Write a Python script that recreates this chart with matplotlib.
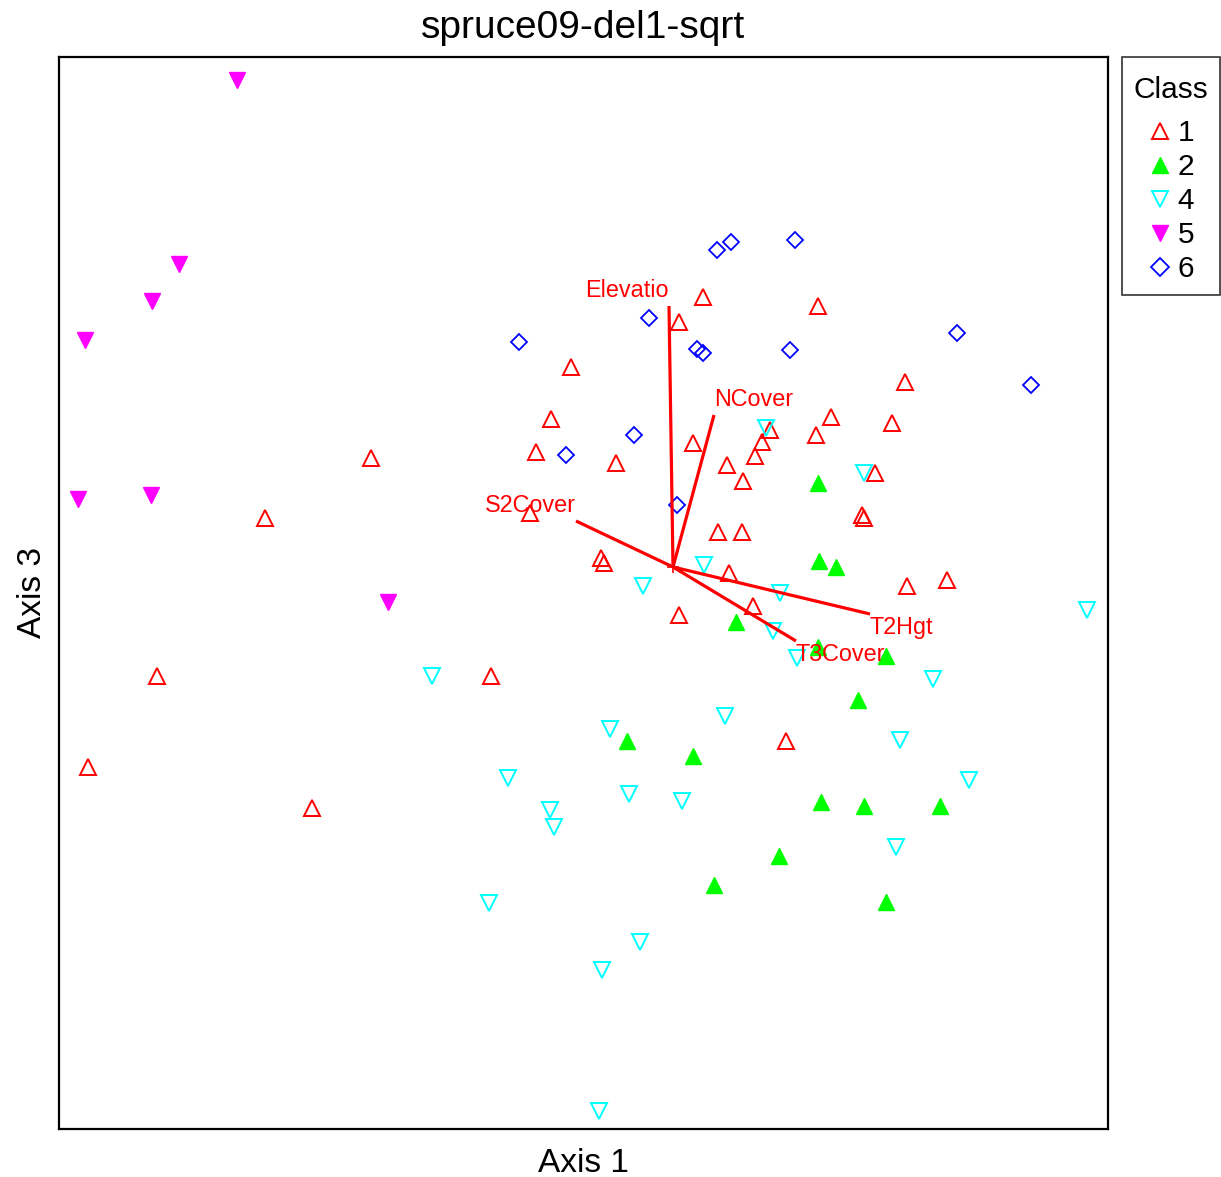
import matplotlib
matplotlib.use("Agg")
import matplotlib.pyplot as plt
from matplotlib.offsetbox import VPacker, DrawingArea
import numpy as np

plt.rcParams['font.family'] = ['Liberation Sans', 'DejaVu Sans']

# Ordination scores (arbitrary units) per class
c1_x = [312, 206, 98, 29, 253, 432, 512, 492, 477, 471, 557, 542, 545, 644, 620, 634, 668, 684, 696, 703, 711,
        659, 683, 670, 694, 620, 759, 772, 757, 846, 833, 816, 803, 805, 848, 888, 727]
c1_y = [671, 611, 453, 362, 321, 453, 762, 710, 677, 616, 666, 571, 566, 832, 807, 686, 664, 648, 673, 687, 699,
        597, 597, 556, 523, 514, 823, 712, 694, 747, 706, 656, 614, 611, 543, 549, 388]
c2_x = [759, 760, 777, 677, 759, 827, 799, 568, 634, 762, 805, 881, 720, 655, 827]
c2_y = [646, 568, 562, 507, 482, 473, 429, 388, 373, 327, 323, 323, 273, 244, 227]
c4_x = [373, 584, 645, 707, 805, 721, 714, 738, 1028, 874, 666, 551, 841, 910, 449, 570, 623, 491, 495, 837,
        430, 581, 543, 540]
c4_y = [453, 543, 564, 701, 656, 536, 498, 471, 519, 450, 413, 400, 389, 349, 351, 335, 328, 319, 302, 282,
        226, 187, 159, 18]
c5_x = [178, 120, 93, 26, 19, 92, 329]
c5_y = [1049, 865, 828, 789, 630, 634, 527]
c6_x = [460, 590, 658, 672, 736, 638, 644, 731, 898, 972, 575, 507, 618]
c6_y = [787, 811, 879, 887, 889, 780, 776, 779, 796, 744, 694, 674, 624]

# Biplot vectors (from centroid)
origin = (614, 562)
vec_names = ["Elevatio", "NCover", "S2Cover", "T2Hgt", "T3Cover"]
vec_dx = [-4, 41, -97, 197, 123]
vec_dy = [261, 152, 46, -47, -74]

class_labels = ["1", "2", "4", "5", "6"]

fig = plt.figure(figsize=(12.21, 11.77), dpi=100)
ax = fig.add_axes([59/1221, 1 - 1129/1177, (1108-59)/1221, (1129-57)/1177])

ms = 11
ax.plot(c1_x, c1_y, ls='none', marker='^', ms=ms, mfc='none', mec='#FF0000', mew=1.4, label=class_labels[0])
ax.plot(c2_x, c2_y, ls='none', marker='^', ms=ms, mfc='#00FF00', mec='#00FF00', mew=1.0, label=class_labels[1])
ax.plot(c4_x, c4_y, ls='none', marker='v', ms=ms, mfc='none', mec='#00FFFF', mew=1.4, label=class_labels[2])
ax.plot(c5_x, c5_y, ls='none', marker='v', ms=ms, mfc='#FF00FF', mec='#FF00FF', mew=1.0, label=class_labels[3])
ax.plot(c6_x, c6_y, ls='none', marker='D', ms=8, mfc='none', mec='#0000FF', mew=1.3, label=class_labels[4])

for name, dx, dy in zip(vec_names, vec_dx, vec_dy):
    x1, y1 = origin[0] + dx, origin[1] + dy
    ax.plot([origin[0], x1], [origin[1], y1], color='#FF0000', lw=2.3, solid_capstyle='butt')
    ha = 'right' if dx < 0 else 'left'
    off = 11 if dy > 0 else -10
    ax.annotate(name, (x1, y1), xytext=(0, off), textcoords='offset points',
                ha=ha, va='center', color='#FF0000', fontsize=16.8)
ax.plot([origin[0]], [origin[1]], marker='+', ms=8, color='#FF0000', mew=1.2)

ax.set_xlim(0, 1049)
ax.set_ylim(0, 1072)
ax.set_xticks([])
ax.set_yticks([])
for s in ax.spines.values():
    s.set_linewidth(1.6)

ax.set_title("spruce09-del1-sqrt", fontsize=28, pad=14)
ax.set_xlabel("Axis 1", fontsize=24, labelpad=14)
ax.set_ylabel("Axis 3", fontsize=24, labelpad=8)

leg = ax.legend(loc='upper left', bbox_to_anchor=(1.013, 1.0), title="Class", fontsize=21.5,
                title_fontsize=21.5, frameon=True, fancybox=False, edgecolor='black',
                handlelength=0.8, handletextpad=0.2, labelspacing=0.2, borderaxespad=0,
                borderpad=0.4, markerscale=1.1)
leg.get_frame().set_linewidth(1.2)
# extra space above the legend title and between title and entries
spacer = DrawingArea(1, 5)
title_pack = VPacker(children=[spacer, leg._legend_title_box], pad=0, sep=0, align='center')
title_pack.set_figure(fig)
spacer.set_figure(fig)
leg._legend_box._children[0] = title_pack
leg._legend_box.sep = 11

fig.savefig("out.png", dpi=100)
